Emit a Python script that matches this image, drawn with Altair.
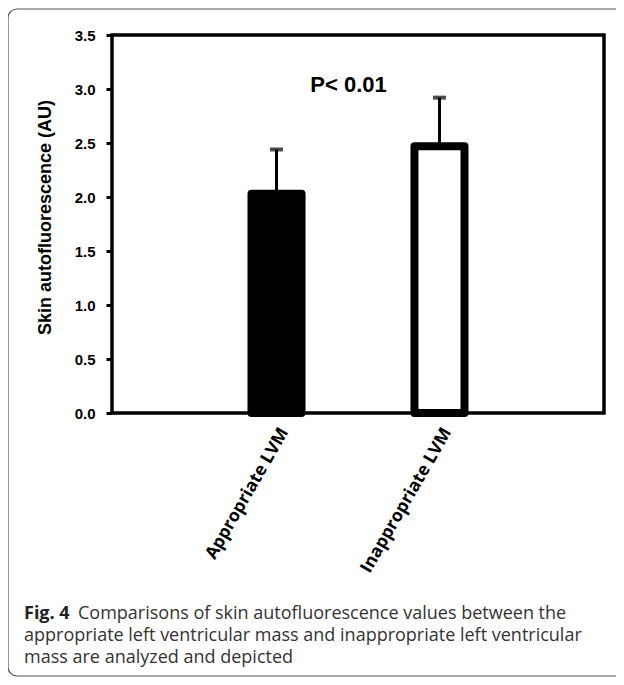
import math
import altair as alt
import pandas as pd

categories = ["Appropriate LVM", "Inappropriate LVM"]
means = [2.03, 2.47]
sds = [0.41, 0.45]
fills = ["black", "white"]
y_ticks = [0.0, 0.5, 1.0, 1.5, 2.0, 2.5, 3.0, 3.5]
annotation = "P< 0.01"
caption_bold = "Fig. 4"
caption_lines = [
    "Comparisons of skin autofluorescence values between the",
    "appropriate left ventricular mass and inappropriate left ventricular",
    "mass are analyzed and depicted",
]

df = pd.DataFrame({"cat": categories, "mean": means, "sd": sds, "fill": fills})
df["top"] = df["mean"] + df["sd"]

W, H = 492, 378

xs = alt.Scale(domain=categories, paddingInner=0.693, paddingOuter=0.856)
ys = alt.Scale(domain=[0, 3.5], nice=False, zero=True)

x_enc = alt.X(
    "cat:N", scale=xs, title=None, sort=categories,
    axis=alt.Axis(
        labelAngle=300, labelAlign="right", labelBaseline="middle",
        labelFont="Open Sans", labelFontWeight="bold", labelFontSize=17.5,
        labelColor="black", ticks=False, domain=False, labelPadding=16,
        labelOffset=8,
    ),
)
y_axis = alt.Axis(
    values=y_ticks, format=".1f", title="Skin autofluorescence (AU)",
    titleFont="Liberation Sans", titleFontSize=18, titleFontWeight="bold",
    titleColor="black", titlePadding=20, titleY=182,
    labelFont="Liberation Sans", labelFontSize=15, labelFontWeight="bold",
    labelColor="black", labelPadding=11,
    tickSize=6, tickWidth=3, tickColor="black", domain=False, grid=False,
)

bars = alt.Chart(df).mark_bar(
    stroke="black", strokeWidth=8, strokeJoin="round"
).encode(
    x=x_enc,
    y=alt.Y("mean:Q", scale=ys, axis=y_axis),
    fill=alt.Fill("fill:N", scale=None),
)

err = alt.Chart(df).mark_rule(color="black", strokeWidth=3).encode(
    x=alt.X("cat:N", scale=xs, sort=categories),
    y=alt.Y("mean:Q", scale=ys),
    y2="top:Q",
)
caps = alt.Chart(df).mark_tick(color="black", thickness=4, size=13).encode(
    x=alt.X("cat:N", scale=xs, sort=categories),
    y=alt.Y("top:Q", scale=ys),
)

ptext = alt.Chart(pd.DataFrame({"t": [annotation]})).mark_text(
    font="Liberation Sans", fontSize=22, fontWeight="bold", color="black",
    baseline="middle", align="center", dx=72, dy=-4,
).encode(
    x=alt.datum(categories[0], scale=xs),
    y=alt.datum(3.0, scale=ys),
    text="t:N",
)

# outer caption frame (open on the right, like the cropped reference)
FL, FT, FB, FR, R = -104, -26, 641, 560, 9
one = pd.DataFrame({"a": [0]})
fstyle = dict(color="#555555", strokeWidth=1.2)
f_top = alt.Chart(one).mark_rule(**fstyle).encode(
    x=alt.value(FL + R), x2=alt.value(FR), y=alt.value(FT))
f_bot = alt.Chart(one).mark_rule(**fstyle).encode(
    x=alt.value(FL + R), x2=alt.value(FR), y=alt.value(FB))
f_left = alt.Chart(one).mark_rule(**fstyle).encode(
    x=alt.value(FL), y=alt.value(FT + R), y2=alt.value(FB - R))
f_tl = alt.Chart(one).mark_arc(
    stroke="#555555", strokeWidth=1.2, fill=None, radius=R, radius2=R,
    theta=1.5 * math.pi, theta2=2 * math.pi,
).encode(x=alt.value(FL + R), y=alt.value(FT + R))
f_bl = alt.Chart(one).mark_arc(
    stroke="#555555", strokeWidth=1.2, fill=None, radius=R, radius2=R,
    theta=math.pi, theta2=1.5 * math.pi,
).encode(x=alt.value(FL + R), y=alt.value(FB - R))

cap_bold = alt.Chart(pd.DataFrame({"t": [caption_bold]})).mark_text(
    font="Open Sans", fontSize=18, fontWeight="bold", color="#222222",
    align="left", baseline="alphabetic",
).encode(x=alt.value(-88), y=alt.value(584), text="t:N")

cap_lines = [
    alt.Chart(pd.DataFrame({"t": [line]})).mark_text(
        font="Open Sans", fontSize=18, color="#333333",
        align="left", baseline="alphabetic",
    ).encode(x=alt.value(-34 if i == 0 else -88), y=alt.value(584 + 22 * i), text="t:N")
    for i, line in enumerate(caption_lines)
]

chart = alt.layer(
    f_top, f_bot, f_left, f_tl, f_bl, bars, err, caps, ptext, cap_bold, *cap_lines
).properties(
    width=W, height=H,
    autosize=alt.AutoSizeParams(type="none"),
    padding={"left": 104, "top": 27, "right": 12, "bottom": 264},
).configure_view(stroke="black", strokeWidth=3.5)

chart.save("out.html", embed_options={"renderer": "svg", "actions": False})
